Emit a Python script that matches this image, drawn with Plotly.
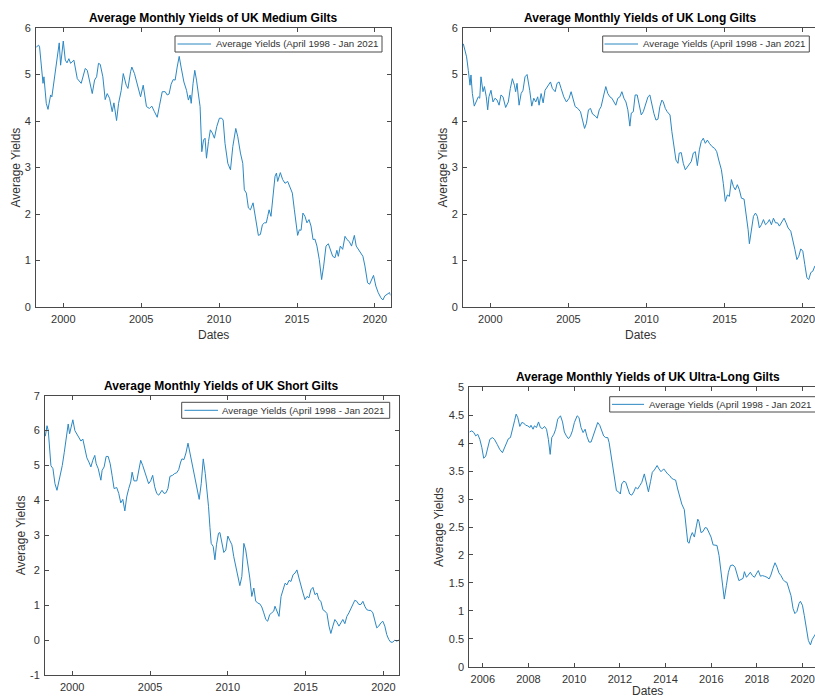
import plotly.graph_objects as go

W, H = 815, 698

# ---------------- data: average monthly yields (%), dates as decimal years ----------------
medium_dates = [
    1998.27, 1998.42, 1998.48, 1998.70, 1998.76, 1998.91, 1999.02, 1999.19, 1999.27, 1999.44,
    1999.57, 1999.74, 1999.83, 2000.00, 2000.13, 2000.24, 2000.36, 2000.47, 2000.68, 2000.90,
    2001.15, 2001.41, 2001.54, 2001.69, 2001.86, 2002.01, 2002.14, 2002.26, 2002.37, 2002.54,
    2002.69, 2002.82, 2002.97, 2003.14, 2003.25, 2003.42, 2003.55, 2003.72, 2003.85, 2004.04,
    2004.15, 2004.32, 2004.40, 2004.57, 2004.79, 2004.96, 2005.13, 2005.34, 2005.53, 2005.68,
    2005.85, 2006.03, 2006.18, 2006.35, 2006.54, 2006.67, 2006.79, 2006.92, 2007.05, 2007.18,
    2007.31, 2007.44, 2007.56, 2007.74, 2007.91, 2008.03, 2008.14, 2008.21, 2008.33, 2008.44,
    2008.55, 2008.68, 2008.78, 2008.89, 2009.00, 2009.10, 2009.19, 2009.32, 2009.44, 2009.57,
    2009.70, 2009.85, 2010.02, 2010.17, 2010.26, 2010.38, 2010.56, 2010.73, 2010.88, 2011.07,
    2011.20, 2011.37, 2011.52, 2011.62, 2011.75, 2011.88, 2012.01, 2012.18, 2012.31, 2012.44,
    2012.52, 2012.65, 2012.78, 2012.91, 2013.03, 2013.12, 2013.21, 2013.33, 2013.46, 2013.59,
    2013.68, 2013.76, 2013.93, 2014.08, 2014.23, 2014.40, 2014.57, 2014.70, 2014.83, 2014.94,
    2015.04, 2015.15, 2015.26, 2015.38, 2015.51, 2015.64, 2015.77, 2015.90, 2016.03, 2016.15,
    2016.28, 2016.43, 2016.58, 2016.71, 2016.86, 2017.01, 2017.14, 2017.29, 2017.44, 2017.56,
    2017.65, 2017.78, 2017.93, 2018.08, 2018.21, 2018.35, 2018.50, 2018.68, 2018.80, 2018.93,
    2019.10, 2019.23, 2019.36, 2019.53, 2019.66, 2019.79, 2019.91, 2020.06, 2020.21, 2020.38,
    2020.51, 2020.64, 2020.81, 2020.94, 2021.00,
]
medium_yields = [
    5.59, 5.63, 5.59, 4.81, 4.95, 4.38, 4.25, 4.56, 4.52, 4.95,
    5.24, 5.68, 5.20, 5.72, 5.31, 5.25, 5.34, 5.24, 5.31, 4.91,
    4.81, 5.13, 5.09, 4.88, 4.59, 4.88, 4.95, 5.24, 5.22, 4.95,
    4.46, 4.59, 4.49, 4.20, 4.39, 4.01, 4.38, 4.66, 5.02, 4.77,
    4.70, 5.06, 5.16, 5.02, 4.77, 4.52, 4.77, 4.31, 4.27, 4.32,
    4.20, 4.08, 4.34, 4.63, 4.63, 4.56, 4.58, 4.79, 4.89, 4.88,
    5.16, 5.39, 5.16, 4.84, 4.66, 4.45, 4.56, 4.38, 4.81, 5.09,
    4.88, 4.52, 4.31, 3.34, 3.59, 3.63, 3.20, 3.56, 3.81, 3.74,
    3.63, 3.88, 4.06, 4.06, 4.02, 3.52, 3.09, 2.95, 3.45, 3.84,
    3.66, 3.31, 3.09, 2.52, 2.45, 2.13, 2.09, 2.24, 1.95, 1.66,
    1.54, 1.56, 1.77, 1.81, 1.81, 1.95, 2.09, 1.95, 2.45, 2.81,
    2.88, 2.70, 2.89, 2.74, 2.66, 2.70, 2.56, 2.45, 2.09, 1.74,
    1.54, 1.66, 1.65, 2.02, 1.95, 1.81, 1.88, 1.74, 1.45, 1.46,
    1.31, 1.02, 0.59, 0.88, 1.31, 1.36, 1.24, 1.09, 1.06, 1.22,
    1.09, 1.31, 1.24, 1.52, 1.45, 1.41, 1.31, 1.54, 1.31, 1.25,
    1.16, 1.09, 0.88, 0.52, 0.49, 0.59, 0.68, 0.45, 0.31, 0.20,
    0.15, 0.24, 0.29, 0.31, 0.25,
]

long_dates = [
    1998.27, 1998.38, 1998.48, 1998.59, 1998.70, 1998.76, 1998.85, 1998.97, 1999.10, 1999.23,
    1999.32, 1999.40, 1999.53, 1999.62, 1999.74, 1999.83, 1999.91, 2000.04, 2000.17, 2000.30,
    2000.43, 2000.56, 2000.68, 2000.81, 2000.98, 2001.15, 2001.28, 2001.41, 2001.54, 2001.62,
    2001.71, 2001.84, 2001.97, 2002.09, 2002.22, 2002.35, 2002.52, 2002.65, 2002.78, 2002.91,
    2003.03, 2003.12, 2003.25, 2003.38, 2003.50, 2003.68, 2003.85, 2003.97, 2004.15, 2004.27,
    2004.40, 2004.53, 2004.70, 2004.87, 2005.04, 2005.17, 2005.30, 2005.43, 2005.60, 2005.77,
    2005.90, 2006.03, 2006.15, 2006.28, 2006.41, 2006.54, 2006.71, 2006.84, 2006.97, 2007.09,
    2007.26, 2007.39, 2007.52, 2007.65, 2007.78, 2007.91, 2008.03, 2008.16, 2008.29, 2008.42,
    2008.55, 2008.68, 2008.80, 2008.93, 2009.02, 2009.15, 2009.27, 2009.40, 2009.53, 2009.66,
    2009.79, 2009.96, 2010.09, 2010.21, 2010.34, 2010.47, 2010.60, 2010.73, 2010.85, 2010.98,
    2011.07, 2011.20, 2011.32, 2011.50, 2011.62, 2011.75, 2011.88, 2012.01, 2012.09, 2012.22,
    2012.35, 2012.48, 2012.61, 2012.74, 2012.86, 2012.99, 2013.12, 2013.25, 2013.38, 2013.50,
    2013.63, 2013.76, 2013.89, 2014.02, 2014.19, 2014.36, 2014.49, 2014.62, 2014.79, 2014.91,
    2015.04, 2015.17, 2015.30, 2015.43, 2015.56, 2015.68, 2015.81, 2015.94, 2016.07, 2016.24,
    2016.37, 2016.50, 2016.58, 2016.71, 2016.84, 2016.97, 2017.09, 2017.22, 2017.35, 2017.48,
    2017.61, 2017.74, 2017.86, 2017.99, 2018.12, 2018.25, 2018.38, 2018.50, 2018.63, 2018.80,
    2018.93, 2019.06, 2019.23, 2019.36, 2019.49, 2019.62, 2019.74, 2019.87, 2020.00, 2020.13,
    2020.26, 2020.38, 2020.51, 2020.64, 2020.77, 2020.85,
]
long_yields = [
    5.66, 5.49, 5.38, 5.09, 4.77, 4.99, 4.59, 4.32, 4.41, 4.52,
    4.49, 4.95, 4.63, 4.74, 4.52, 4.24, 4.52, 4.66, 4.41, 4.49,
    4.45, 4.34, 4.56, 4.52, 4.29, 4.41, 4.70, 4.91, 4.77, 4.63,
    4.81, 4.34, 4.59, 4.66, 4.95, 5.00, 4.66, 4.32, 4.49, 4.41,
    4.52, 4.34, 4.59, 4.39, 4.66, 4.74, 4.84, 4.70, 4.63, 4.81,
    4.84, 4.70, 4.52, 4.41, 4.49, 4.63, 4.45, 4.31, 4.27, 4.20,
    4.02, 3.84, 3.95, 4.24, 4.27, 4.15, 4.11, 4.06, 4.24, 4.31,
    4.56, 4.74, 4.59, 4.52, 4.49, 4.41, 4.34, 4.49, 4.52, 4.63,
    4.49, 4.41, 4.24, 3.89, 4.17, 4.20, 4.56, 4.56, 4.34, 4.13,
    4.20, 4.41, 4.52, 4.56, 4.34, 4.16, 4.02, 4.04, 4.31, 4.45,
    4.41, 4.27, 4.20, 4.13, 3.77, 3.45, 3.16, 3.09, 3.31, 3.32,
    3.09, 2.95, 3.02, 3.09, 3.13, 3.31, 3.34, 3.04, 3.38, 3.56,
    3.63, 3.52, 3.59, 3.52, 3.45, 3.41, 3.34, 3.16, 2.95, 2.66,
    2.27, 2.41, 2.38, 2.74, 2.59, 2.52, 2.63, 2.52, 2.34, 2.32,
    2.02, 1.66, 1.36, 1.66, 1.95, 2.02, 1.95, 1.70, 1.77, 1.88,
    1.77, 1.81, 1.88, 1.77, 1.91, 1.81, 1.81, 1.74, 1.81, 1.91,
    1.81, 1.70, 1.63, 1.45, 1.24, 1.02, 1.09, 1.25, 1.20, 0.91,
    0.63, 0.59, 0.74, 0.77, 0.88, 0.89,
]

short_dates = [
    1998.27, 1998.38, 1998.46, 1998.55, 1998.63, 1998.76, 1998.89, 1999.02, 1999.15, 1999.23,
    1999.36, 1999.49, 1999.62, 1999.74, 1999.83, 1999.91, 2000.04, 2000.17, 2000.30, 2000.43,
    2000.56, 2000.68, 2000.81, 2000.94, 2001.07, 2001.20, 2001.32, 2001.45, 2001.54, 2001.67,
    2001.84, 2001.92, 2002.05, 2002.18, 2002.31, 2002.44, 2002.56, 2002.69, 2002.86, 2002.99,
    2003.12, 2003.25, 2003.38, 2003.50, 2003.63, 2003.76, 2003.85, 2003.97, 2004.15, 2004.27,
    2004.40, 2004.53, 2004.66, 2004.79, 2004.91, 2005.04, 2005.17, 2005.30, 2005.43, 2005.56,
    2005.64, 2005.77, 2005.90, 2006.03, 2006.15, 2006.28, 2006.45, 2006.58, 2006.71, 2006.84,
    2006.97, 2007.05, 2007.18, 2007.31, 2007.44, 2007.56, 2007.69, 2007.82, 2007.95, 2008.08,
    2008.16, 2008.29, 2008.42, 2008.55, 2008.68, 2008.76, 2008.85, 2008.93, 2009.06, 2009.17,
    2009.27, 2009.40, 2009.49, 2009.62, 2009.74, 2009.87, 2010.00, 2010.13, 2010.26, 2010.38,
    2010.51, 2010.64, 2010.77, 2010.90, 2011.03, 2011.15, 2011.28, 2011.41, 2011.54, 2011.67,
    2011.79, 2011.92, 2012.05, 2012.18, 2012.31, 2012.44, 2012.56, 2012.69, 2012.82, 2012.95,
    2013.03, 2013.16, 2013.29, 2013.42, 2013.55, 2013.68, 2013.80, 2013.93, 2014.06, 2014.19,
    2014.32, 2014.44, 2014.57, 2014.70, 2014.83, 2014.96, 2015.09, 2015.21, 2015.34, 2015.47,
    2015.60, 2015.73, 2015.85, 2015.98, 2016.11, 2016.24, 2016.37, 2016.50, 2016.62, 2016.75,
    2016.88, 2017.01, 2017.14, 2017.26, 2017.39, 2017.52, 2017.65, 2017.78, 2017.91, 2018.03,
    2018.16, 2018.29, 2018.42, 2018.55, 2018.68, 2018.80, 2018.93, 2019.06, 2019.19, 2019.32,
    2019.44, 2019.57, 2019.70, 2019.83, 2019.96, 2020.09, 2020.21, 2020.34, 2020.47, 2020.60,
    2020.73, 2020.85, 2021.00,
]
short_yields = [
    5.84, 6.14, 6.00, 5.53, 5.00, 4.91, 4.48, 4.29, 4.53, 4.67,
    5.00, 5.38, 5.81, 6.19, 5.91, 6.05, 6.31, 6.00, 5.91, 5.81,
    5.70, 5.76, 5.48, 5.22, 5.10, 4.96, 5.15, 5.29, 5.05, 4.91,
    4.58, 4.86, 4.96, 5.26, 5.26, 5.05, 4.72, 4.34, 4.37, 4.20,
    3.93, 4.03, 3.70, 4.10, 4.34, 4.53, 4.81, 4.56, 4.56, 4.86,
    5.15, 5.00, 4.81, 4.62, 4.48, 4.56, 4.72, 4.39, 4.20, 4.15,
    4.20, 4.29, 4.20, 4.22, 4.34, 4.69, 4.72, 4.77, 4.79, 4.88,
    5.10, 5.19, 5.17, 5.36, 5.64, 5.38, 5.05, 4.77, 4.48, 4.29,
    4.03, 4.48, 5.19, 4.77, 4.29, 3.82, 3.23, 2.77, 2.68, 2.30,
    2.73, 3.06, 3.08, 2.73, 2.51, 2.58, 2.98, 2.85, 2.73, 2.39,
    2.10, 1.82, 1.56, 1.82, 2.77, 2.58, 2.20, 1.78, 1.25, 1.49,
    1.12, 1.06, 1.04, 0.95, 0.78, 0.59, 0.54, 0.73, 0.78, 0.83,
    0.97, 0.83, 0.68, 1.25, 1.44, 1.63, 1.58, 1.71, 1.68, 1.87,
    1.92, 2.01, 1.78, 1.54, 1.35, 1.16, 1.25, 1.21, 1.44, 1.51,
    1.30, 1.35, 1.16, 1.11, 0.87, 0.83, 0.76, 0.40, 0.19, 0.40,
    0.59, 0.51, 0.40, 0.49, 0.59, 0.47, 0.68, 0.78, 0.92, 1.04,
    1.14, 1.11, 1.02, 1.02, 1.11, 0.97, 0.87, 0.85, 0.85, 0.78,
    0.59, 0.35, 0.40, 0.49, 0.54, 0.40, 0.16, 0.02, -0.06, -0.06,
    0.00, -0.03, 0.00,
]

ultra_dates = [
    2005.42, 2005.52, 2005.61, 2005.69, 2005.78, 2005.87, 2005.96, 2006.04, 2006.13, 2006.22,
    2006.31, 2006.42, 2006.51, 2006.63, 2006.74, 2006.86, 2006.95, 2007.04, 2007.12, 2007.21,
    2007.30, 2007.39, 2007.46, 2007.53, 2007.62, 2007.71, 2007.79, 2007.88, 2007.97, 2008.06,
    2008.11, 2008.20, 2008.26, 2008.35, 2008.44, 2008.52, 2008.61, 2008.70, 2008.79, 2008.87,
    2008.95, 2009.02, 2009.11, 2009.19, 2009.28, 2009.40, 2009.49, 2009.57, 2009.66, 2009.75,
    2009.84, 2009.92, 2010.01, 2010.13, 2010.21, 2010.30, 2010.39, 2010.48, 2010.56, 2010.65,
    2010.74, 2010.83, 2010.91, 2011.03, 2011.12, 2011.21, 2011.29, 2011.38, 2011.47, 2011.53,
    2011.61, 2011.70, 2011.79, 2011.85, 2011.94, 2012.02, 2012.08, 2012.17, 2012.26, 2012.34,
    2012.43, 2012.52, 2012.61, 2012.69, 2012.78, 2012.87, 2012.96, 2013.07, 2013.16, 2013.25,
    2013.34, 2013.42, 2013.51, 2013.63, 2013.71, 2013.80, 2013.92, 2014.01, 2014.09, 2014.18,
    2014.27, 2014.36, 2014.44, 2014.53, 2014.62, 2014.71, 2014.82, 2014.91, 2014.97, 2015.03,
    2015.09, 2015.17, 2015.26, 2015.35, 2015.41, 2015.46, 2015.55, 2015.64, 2015.73, 2015.81,
    2015.90, 2015.99, 2016.08, 2016.16, 2016.25, 2016.34, 2016.43, 2016.51, 2016.57, 2016.66,
    2016.75, 2016.84, 2016.95, 2017.04, 2017.13, 2017.21, 2017.30, 2017.39, 2017.45, 2017.54,
    2017.62, 2017.71, 2017.80, 2017.89, 2017.97, 2018.06, 2018.15, 2018.24, 2018.32, 2018.44,
    2018.53, 2018.61, 2018.70, 2018.79, 2018.88, 2018.96, 2019.05, 2019.14, 2019.23, 2019.31,
    2019.40, 2019.49, 2019.58, 2019.66, 2019.75, 2019.84, 2019.90, 2019.99, 2020.07, 2020.16,
    2020.25, 2020.34, 2020.42, 2020.51, 2020.57,
]
ultra_yields = [
    4.20, 4.22, 4.19, 4.13, 4.16, 4.07, 3.92, 3.73, 3.77, 3.92,
    4.07, 4.10, 4.07, 3.98, 3.89, 3.83, 3.92, 4.01, 4.08, 4.10,
    4.28, 4.40, 4.52, 4.46, 4.30, 4.37, 4.36, 4.32, 4.31, 4.28,
    4.32, 4.25, 4.31, 4.28, 4.38, 4.28, 4.26, 4.30, 4.25, 4.07,
    3.80, 4.10, 4.16, 4.25, 4.43, 4.49, 4.38, 4.20, 4.13, 4.08,
    4.13, 4.22, 4.37, 4.49, 4.46, 4.28, 4.19, 4.25, 4.12, 4.02,
    4.02, 4.13, 4.25, 4.37, 4.32, 4.22, 4.13, 4.10, 4.10, 4.01,
    3.80, 3.57, 3.33, 3.15, 3.13, 3.09, 3.27, 3.32, 3.30, 3.18,
    3.09, 3.07, 3.13, 3.21, 3.18, 3.24, 3.30, 3.45, 3.30, 3.13,
    3.31, 3.48, 3.52, 3.60, 3.54, 3.49, 3.54, 3.49, 3.45, 3.42,
    3.37, 3.35, 3.34, 3.18, 3.06, 2.91, 2.81, 2.52, 2.23, 2.21,
    2.32, 2.40, 2.32, 2.52, 2.64, 2.60, 2.40, 2.42, 2.49, 2.48,
    2.40, 2.32, 2.18, 2.18, 2.17, 1.99, 1.69, 1.39, 1.21, 1.45,
    1.69, 1.81, 1.82, 1.78, 1.66, 1.54, 1.56, 1.58, 1.70, 1.60,
    1.64, 1.69, 1.63, 1.60, 1.66, 1.72, 1.62, 1.63, 1.62, 1.60,
    1.57, 1.64, 1.76, 1.86, 1.78, 1.68, 1.63, 1.56, 1.52, 1.51,
    1.39, 1.27, 1.04, 0.95, 0.99, 1.13, 1.17, 1.10, 0.92, 0.68,
    0.47, 0.39, 0.49, 0.55, 0.59,
]

series_label = "Average Yields (April 1998 - Jan 2021"

# tick values and their labels
year_ticks = [2000, 2005, 2010, 2015, 2020]
year_ticks_ultra = [2006, 2008, 2010, 2012, 2014, 2016, 2018, 2020]
yield_ticks_six = [0, 1, 2, 3, 4, 5, 6]
yield_ticks_short = [-1, 0, 1, 2, 3, 4, 5, 6, 7]
yield_labels_short = ["-1", "0", "1", "2", "3", "4", "5", "6", "7"]
yield_ticks_ultra = [0, 0.5, 1, 1.5, 2, 2.5, 3, 3.5, 4, 4.5, 5]
yield_labels_ultra = ["0", "0.5", "1", "1.5", "2", "2.5", "3", "3.5", "4", "4.5", "5"]

# ---------------- styling ----------------
FONT = "Liberation Sans, Arial, sans-serif"
LINE = "#2b87c2"
AXIS = "#4a4a4a"
TICKTXT = "#333333"


def px(x):
    return x / W


def py(y):
    return 1 - y / H


# plot boxes in pixels: left, right, top, bottom
panels = {
    "medium": dict(box=(36, 390.5, 28, 307), xr=[1998.25, 2021.0], yr=[0, 6],
                   title="Average Monthly Yields of UK Medium Gilts",
                   x=medium_dates, y=medium_yields),
    "long": dict(box=(463, 815, 28, 307), xr=[1998.25, 2020.78], yr=[0, 6],
                 title="Average Monthly Yields of UK Long Gilts",
                 x=long_dates, y=long_yields),
    "short": dict(box=(45, 399, 395.7, 675), xr=[1998.25, 2021.0], yr=[-1, 7],
                  title="Average Monthly Yields of UK Short Gilts",
                  x=short_dates, y=short_yields),
    "ultra": dict(box=(469.3, 815, 387.3, 666.7), xr=[2005.41, 2020.54], yr=[0, 5],
                  title="Average Monthly Yields of UK Ultra-Long Gilts",
                  x=ultra_dates, y=ultra_yields),
}

fig = go.Figure()
layout = dict(
    width=W, height=H, margin=dict(l=0, r=0, t=0, b=0, pad=0, autoexpand=False),
    paper_bgcolor="white", plot_bgcolor="white", showlegend=False,
    font=dict(family=FONT, color=TICKTXT),
)
annotations = []
shapes = []

order = ["medium", "long", "short", "ultra"]
for i, key in enumerate(order, start=1):
    p = panels[key]
    l, r, t, b = p["box"]
    suffix = "" if i == 1 else str(i)
    fig.add_trace(go.Scatter(
        x=p["x"], y=p["y"], mode="lines", name=series_label,
        line=dict(color=LINE, width=1), xaxis="x" + suffix, yaxis="y" + suffix,
        hoverinfo="x+y",
    ))
    right_cut = r >= W
    common = dict(showline=True, linecolor=AXIS, linewidth=1, ticks="inside", ticklen=4,
                  tickwidth=1, tickcolor=AXIS, showgrid=False, zeroline=False,
                  automargin=False, ticklabeloverflow="allow",
                  tickfont=dict(family=FONT, size=11, color=TICKTXT))
    if key == "ultra":
        xt, xl = year_ticks_ultra, [str(v) for v in year_ticks_ultra]
    else:
        xt, xl = year_ticks, [str(v) for v in year_ticks]
    if key == "short":
        yt, yl = yield_ticks_short, yield_labels_short
    elif key == "ultra":
        yt, yl = yield_ticks_ultra, yield_labels_ultra
    else:
        yt, yl = yield_ticks_six, [str(v) for v in yield_ticks_six]
    layout["xaxis" + suffix] = dict(
        common, domain=[px(l), px(r)], range=p["xr"], anchor="y" + suffix,
        tickmode="array", tickvals=xt, ticktext=xl, mirror="ticks", ticklabelstandoff=2,
    )
    layout["yaxis" + suffix] = dict(
        common, domain=[py(b), py(t)], range=p["yr"], anchor="x" + suffix,
        tickmode="array", tickvals=yt, ticktext=yl,
        mirror=False if right_cut else "ticks", ticklabelstandoff=2,
    )

    # title above each plot box, centred on the full (uncropped) box
    full_r = {"long": 818.4, "ultra": 826.0}.get(key, r)
    cx = (l + full_r) / 2
    annotations.append(dict(
        text="<b>" + p["title"] + "</b>", x=px(cx), y=py(t - 10), xref="paper", yref="paper",
        xanchor="center", yanchor="middle", showarrow=False,
        font=dict(family=FONT, size=12, color="#000000"),
    ))
    # axis titles
    dates_gap = {"ultra": 24.5}.get(key, 28)
    annotations.append(dict(
        text="Dates", x=px(cx), y=py(b + dates_gap), xref="paper", yref="paper",
        xanchor="center", yanchor="middle", showarrow=False,
        font=dict(family=FONT, size=12, color=TICKTXT),
    ))
    ylab_x = {"medium": 15, "long": 442, "short": 21, "ultra": 439}[key]
    annotations.append(dict(
        text="Average Yields", x=px(ylab_x), y=py((t + b) / 2), xref="paper", yref="paper",
        xanchor="center", yanchor="middle", textangle=-90, showarrow=False,
        font=dict(family=FONT, size=12, color=TICKTXT),
    ))

# legend boxes: (box left, box right, box top, box bottom, sample start, sample end, text x)
legend_boxes = {
    "medium": (175, 382, 36, 52, 177.5, 211, 214),
    "long": (602.7, 809.3, 36, 52, 604.5, 638, 641),
    "short": (181.7, 389.7, 402.3, 418.3, 184.5, 218, 220),
    "ultra": (609.7, 817, 396.7, 412, 612, 644, 647),
}
for key, (bl, br, bt, bb, s0, s1, tx) in legend_boxes.items():
    cy = (bt + bb) / 2
    shapes.append(dict(type="rect", xref="paper", yref="paper",
                       x0=px(bl), x1=px(br), y0=py(bb), y1=py(bt),
                       line=dict(color=AXIS, width=1), fillcolor="white", layer="above"))
    shapes.append(dict(type="line", xref="paper", yref="paper",
                       x0=px(s0), x1=px(s1), y0=py(cy), y1=py(cy),
                       line=dict(color=LINE, width=1), layer="above"))
    annotations.append(dict(
        text=series_label, x=px(tx), y=py(cy), xref="paper", yref="paper",
        xanchor="left", yanchor="middle", showarrow=False,
        font=dict(family=FONT, size=9.7, color=TICKTXT),
    ))

layout["annotations"] = annotations
layout["shapes"] = shapes
fig.update_layout(**layout)
fig.write_html("out.html")
